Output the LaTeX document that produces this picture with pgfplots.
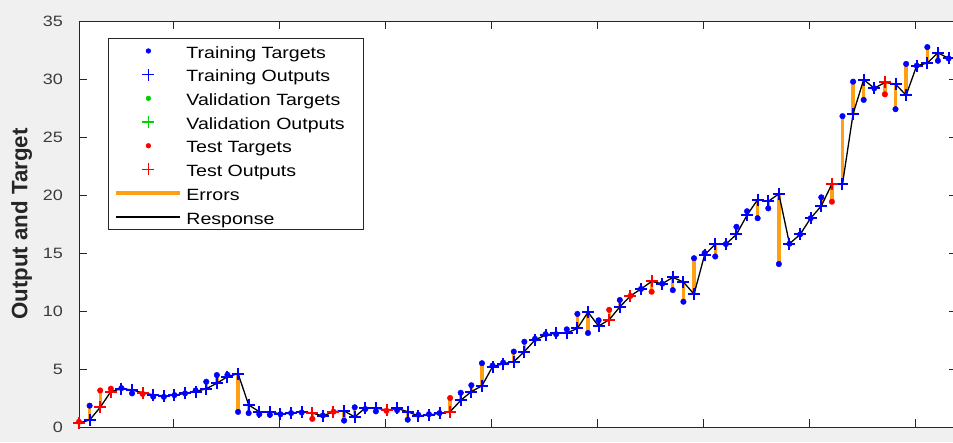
\documentclass[border=0pt]{standalone}
\usepackage{pgfplots}
\pgfplotsset{compat=1.18}
\usepackage{pgfplotstable}
\usepackage{fontspec}
\setmainfont{Liberation Sans}[FakeStretch=1.2]
\newfontfamily\labelfont{Liberation Sans}
\definecolor{bg}{RGB}{240,240,240}
\definecolor{axc}{RGB}{38,38,38}
\definecolor{mblue}{RGB}{0,0,255}
\definecolor{mred}{RGB}{255,0,0}
\definecolor{mgreen}{RGB}{0,210,0}
\definecolor{morange}{RGB}{255,160,20}
\pgfplotsset{myleg/.style={legend image code/.code={\draw[mark repeat=2,mark phase=2,##1] plot coordinates {(0pt,0pt) (32pt,0pt) (64pt,0pt)};}}}

% s: 0 = training, 1 = test
\pgfplotstableread{
x o t s
0 0.34 0.45 1
1 0.60 1.84 0
2 1.70 3.15 1
3 3.05 3.30 1
4 3.30 3.35 0
5 3.20 2.90 0
6 2.95 2.85 1
7 2.78 2.62 0
8 2.67 2.60 0
9 2.75 2.75 0
10 2.90 2.90 0
11 3.05 3.15 0
12 3.30 3.90 0
13 3.77 4.48 0
14 4.34 4.50 0
15 4.60 1.30 0
16 1.90 1.20 0
17 1.32 1.10 0
18 1.32 1.05 0
19 1.12 1.10 0
20 1.20 1.20 0
21 1.32 1.25 0
22 1.20 0.70 1
23 0.95 1.00 0
24 1.32 1.32 1
25 1.40 0.55 0
26 0.86 1.70 0
27 1.65 1.55 0
28 1.65 1.35 0
29 1.45 1.40 1
30 1.60 1.45 0
31 1.32 0.63 0
32 0.95 1.05 0
33 1.03 1.10 0
34 1.18 1.20 0
35 1.32 2.50 1
36 2.30 2.95 0
37 3.05 3.60 0
38 3.55 5.50 0
39 5.20 5.30 0
40 5.45 5.55 0
41 5.63 6.50 0
42 6.50 7.35 0
43 7.50 7.60 0
44 7.93 8.00 0
45 8.10 8.00 0
46 8.10 8.42 0
47 8.50 9.75 0
48 9.90 8.10 0
49 8.70 9.20 0
50 9.25 10.10 1
51 10.35 10.95 0
52 11.30 11.30 1
53 11.90 11.90 0
54 12.55 11.66 1
55 12.35 12.35 0
56 12.90 11.80 0
57 12.50 10.80 0
58 11.45 14.55 0
59 14.85 15.00 0
60 15.75 14.70 0
61 15.77 15.77 0
62 16.60 17.26 0
63 18.27 18.60 0
64 19.60 18.00 0
65 19.45 18.85 0
66 20.10 14.05 0
67 15.80 15.80 0
68 16.60 16.60 0
69 18.00 18.00 0
70 19.05 19.80 0
71 20.95 19.42 1
72 20.95 26.80 0
73 27.00 29.77 0
74 29.95 28.20 0
75 29.20 29.20 0
76 29.70 28.68 1
77 29.56 27.40 0
78 28.60 31.30 0
79 31.15 31.15 0
80 31.37 32.75 0
81 32.27 31.57 0
82 31.77 31.77 0
}\data

\begin{document}
\begin{tikzpicture}[x=1pt,y=1pt]
\fill[bg] (0,0) rectangle (953,442);
\begin{axis}[
  at={(79pt,15pt)}, anchor=south west,
  width=878pt, height=406pt, scale only axis,
  clip=false,
  axis background/.style={fill=white},
  xmin=0, xmax=82.8, ymin=0, ymax=35,
  xtick={8.87,18.87,28.87,38.87,48.87,58.87,68.87,78.87},
  xticklabels={},
  ytick={0,5,10,15,20,25,30,35},
  tick align=inside,
  major tick length=8pt,
  tick style={color=axc, line width=0.8pt},
  axis line style={color=axc, line width=0.9pt},
  /pgf/number format/assume math mode=true,
  yticklabel style={font=\fontsize{15}{18}\selectfont, color=axc!90, anchor=east, inner sep=0pt, xshift=-16pt},
  ylabel={\labelfont\fontsize{22.3}{25}\selectfont\bfseries Output and Target},
  ylabel style={at={(axis description cs:-0.0654,0.5)}, anchor=center, color=axc},
  legend style={at={(axis description cs:0,1)}, anchor=north west, xshift=29pt, yshift=-17pt,
    draw=axc, line width=0.8pt, fill=white,
    font=\fontsize{16.3}{19}\selectfont,
    inner xsep=6pt, inner ysep=0.7pt, row sep=0pt, column sep=4pt,
    cells={anchor=west},
    nodes={inner sep=0pt, text height=19pt, text depth=4.7pt, text width=171pt, align=left}},
  unbounded coords=discard,
]
% errors
\addplot[draw=none, mark=none, forget plot,
  error bars/.cd, y dir=plus, y explicit, error mark=none,
  error bar style={draw=morange, line width=3.3pt, line cap=butt}]
  table[x=x, y=o, y error expr=\thisrow{t}-\thisrow{o}] {\data};
% response
\addplot[black, line width=1.3pt, mark=none, forget plot] table[x=x, y=o] {\data};
% targets
\addplot[only marks, forget plot, mark=*, mark size=2.8pt, draw=mblue, fill=mblue,
  restrict expr to domain={\thisrow{s}}{0:0}] table[x=x, y=t] {\data};
\addplot[only marks, forget plot, mark=*, mark size=2.8pt, draw=mred, fill=mred,
  restrict expr to domain={\thisrow{s}}{1:1}] table[x=x, y=t] {\data};
% outputs
\addplot[only marks, forget plot, mark=+, mark size=6pt, line width=2pt, draw=mblue,
  restrict expr to domain={\thisrow{s}}{0:0}] table[x=x, y=o] {\data};
\addplot[only marks, forget plot, mark=+, mark size=6pt, line width=2pt, draw=mred,
  restrict expr to domain={\thisrow{s}}{1:1}] table[x=x, y=o] {\data};

\addlegendimage{only marks, mark=*, draw=mblue, fill=mblue, mark size=2.2pt, myleg}
\addlegendentry{Training Targets}
\addlegendimage{only marks, mark=+, draw=mblue, mark size=6pt, line width=1.6pt, myleg}
\addlegendentry{Training Outputs}
\addlegendimage{only marks, mark=*, draw=mgreen, fill=mgreen, mark size=2.2pt, myleg}
\addlegendentry{Validation Targets}
\addlegendimage{only marks, mark=+, draw=mgreen, mark size=6pt, line width=1.6pt, myleg}
\addlegendentry{Validation Outputs}
\addlegendimage{only marks, mark=*, draw=mred, fill=mred, mark size=2.2pt, myleg}
\addlegendentry{Test Targets}
\addlegendimage{only marks, mark=+, draw=mred, mark size=6pt, line width=1.6pt, myleg}
\addlegendentry{Test Outputs}
\addlegendimage{draw=morange, line width=4pt, myleg}
\addlegendentry{Errors}
\addlegendimage{draw=black, line width=1.3pt, myleg}
\addlegendentry{Response}
\end{axis}
\pgfresetboundingbox
\path[use as bounding box] (0,0) rectangle (953,442);
\end{tikzpicture}
\end{document}
